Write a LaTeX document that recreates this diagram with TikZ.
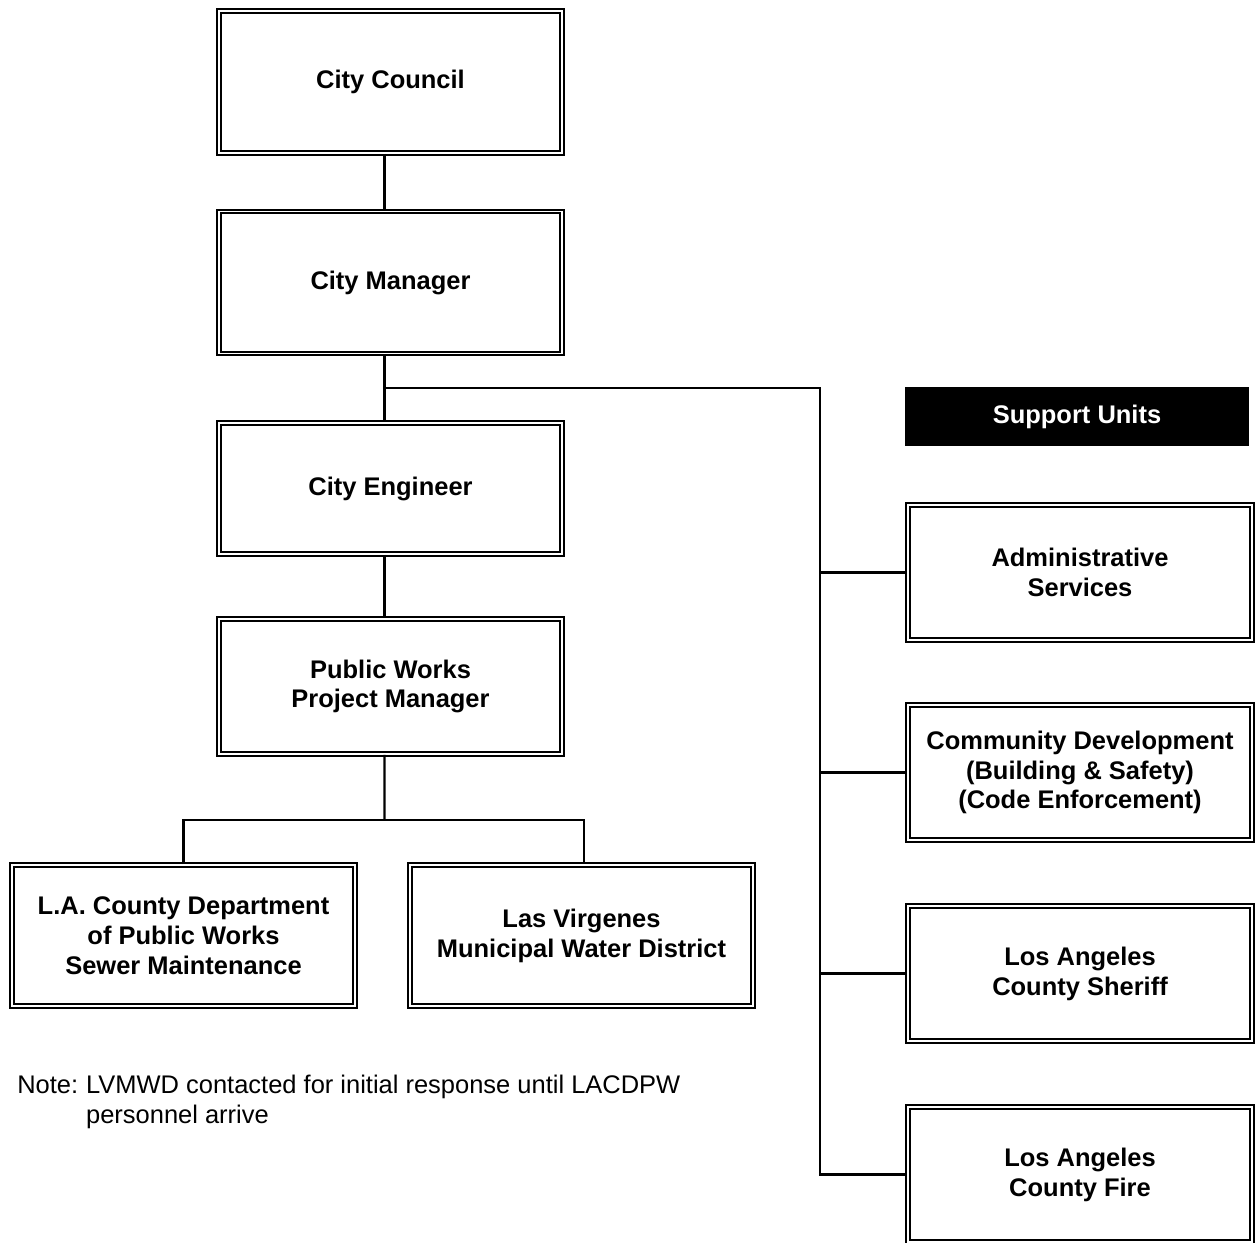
\documentclass[tikz,border=0pt]{standalone}
\usepackage{fontspec}
\setmainfont{Liberation Sans}
\begin{document}
\begin{tikzpicture}[x=0.02cm,y=-0.02cm,
    unit/.style={draw,double,line width=1.1pt,double distance=1.1pt,
      align=center,font=\bfseries\fontsize{14.5}{17}\selectfont,
      minimum width=6.86cm,minimum height=2.70cm,inner sep=0pt},
    head/.style={fill=black,text=white,font=\bfseries\fontsize{14.5}{17}\selectfont,
      minimum width=6.88cm,minimum height=1.18cm,inner sep=0pt},
    link/.style={line width=1.3pt}]
  \useasboundingbox (0,0) rectangle (1255,1243);
  % chain of command
  \node[unit,minimum height=2.84cm] (council) at (390.5,82) {City Council};
  \node[unit,minimum height=2.84cm] (manager) at (390.5,282.5) {City Manager};
  \node[unit,minimum height=2.62cm] (engineer) at (390.5,488.5) {City Engineer};
  \node[unit] (pwpm) at (390.5,686.5) {Public Works\\Project Manager};
  \node[unit,minimum height=2.82cm] (ladpw) at (183.5,935.5)
    {L.A. County Department\\of Public Works\\Sewer Maintenance};
  \node[unit,minimum height=2.82cm] (lvmwd) at (581.5,935.5)
    {Las Virgenes\\Municipal Water District};
  % support units
  \node[head] (support) at (1077,416.5) {Support Units};
  \foreach \n/\y/\txt in {admin/572.5/{Administrative\\Services},
      commdev/772.5/{Community Development\\(Building \& Safety)\\(Code Enforcement)},
      sheriff/973.5/{Los Angeles\\County Sheriff},
      fire/1174.5/{Los Angeles\\County Fire}}{
    \node[unit,minimum width=6.88cm] (\n) at (1080,\y) {\txt};
  }
  \coordinate (tap) at (384.5,388);
  \coordinate (bus) at (820,388);
  \coordinate (split) at (384.5,820);
  \draw[link] ([xshift=-0.12cm]council.south) -- ([xshift=-0.12cm]manager.north);
  \draw[link] ([xshift=-0.12cm]manager.south) -- ([xshift=-0.12cm]engineer.north);
  \draw[link] ([xshift=-0.12cm]engineer.south) -- ([xshift=-0.12cm]pwpm.north);
  \draw[link] ([xshift=-0.12cm]pwpm.south) -- (split);
  \draw[link] (ladpw.north) |- (split) -| ([xshift=0.05cm]lvmwd.north);
  \draw[link] (tap) -- (bus) -- (bus |- fire.west) -- (fire.west);
  \foreach \n in {admin,commdev,sheriff}
    \draw[link] (bus |- \n.west) -- (\n.west);
  % footnote
  \node[anchor=north west,inner sep=0pt,font=\fontsize{14.5}{17}\selectfont] (note) at (17,1072)
    {\begin{tabular}{@{}l@{\hspace{4.5pt}}l@{}}Note: & LVMWD contacted for initial response until LACDPW\\
      & personnel arrive\end{tabular}};
\end{tikzpicture}
\end{document}
